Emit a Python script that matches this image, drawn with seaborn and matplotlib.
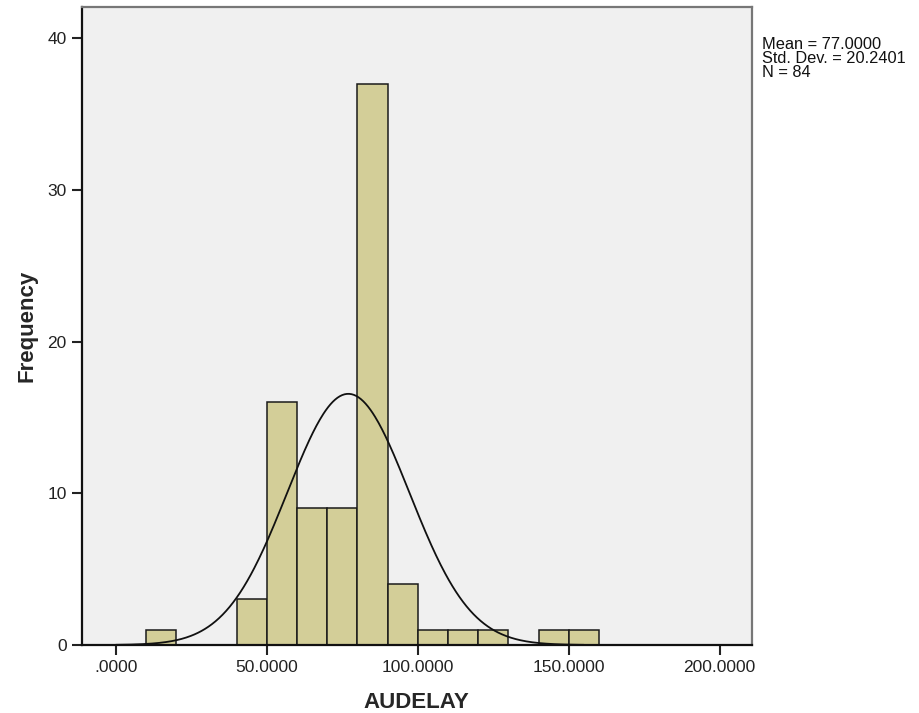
import numpy as np
import pandas as pd
import matplotlib
matplotlib.use("Agg")
import matplotlib.pyplot as plt
import seaborn as sns

# histogram bins (lower edge) and their counts
bin_left = [10, 40, 50, 60, 70, 80, 90, 100, 110, 120, 140, 150]
counts = [1, 3, 16, 9, 9, 37, 4, 1, 1, 1, 1, 1]
bin_width = 10
mean_val = 77.0
std_val = 20.2401
n_obs = 84
x_ticks = [0, 50, 100, 150, 200]
x_ticklabels = [".0000", "50.0000", "100.0000", "150.0000", "200.0000"]
y_ticks = [0, 10, 20, 30, 40]

sns.set_style("white")
plt.rcParams['font.family'] = ['Liberation Sans', 'DejaVu Sans']

# one row per observation, placed at its bin centre
df = pd.DataFrame({"AUDELAY": np.repeat(np.array(bin_left) + bin_width / 2, counts)})

fig = plt.figure(figsize=(9.19, 7.13), dpi=100)
ax = fig.add_axes([0.0892, 0.0954, 0.7291, 0.8946])
ax.set_facecolor("#F0F0F0")

sns.histplot(data=df, x="AUDELAY", bins=list(range(0, 170, bin_width)),
             color="#D3CE98", alpha=1, edgecolor="#1a1a1a", linewidth=1.1, ax=ax)

# normal curve scaled to counts
xs = np.linspace(0, 155, 400)
ys = n_obs * bin_width / (std_val * np.sqrt(2 * np.pi)) * np.exp(-0.5 * ((xs - mean_val) / std_val) ** 2)
sns.lineplot(x=xs, y=ys, color="#111111", linewidth=1.3, ax=ax)

ax.set_xlim(-11.2, 210.7)
ax.set_ylim(0, 42.05)
ax.set_xticks(x_ticks)
ax.set_xticklabels(x_ticklabels)
ax.set_yticks(y_ticks)
ax.tick_params(axis="both", direction="out", length=7.5, width=1.5, color="#222222",
               labelsize=12.5, labelcolor="#222222", pad=3.5,
               bottom=True, left=True, top=False, right=False)
ax.set_xlabel("AUDELAY", fontsize=16, fontweight="bold")
ax.set_ylabel("Frequency", fontsize=16, fontweight="bold")
ax.xaxis.set_label_coords(0.4985, -0.0737)
ax.yaxis.set_label_coords(-0.0657, 0.5)

for side in ["left", "bottom"]:
    ax.spines[side].set_color("#111111")
    ax.spines[side].set_linewidth(1.6)
for side in ["top", "right"]:
    ax.spines[side].set_color("#777777")
    ax.spines[side].set_linewidth(1.6)

fig.text(762 / 919, 1 - 37 / 713,
         f"Mean = {mean_val:.4f}\nStd. Dev. = {std_val:.4f}\nN = {n_obs}",
         fontsize=11.8, va="top", ha="left", color="#111111", linespacing=0.9)

fig.savefig("out.png", dpi=100)
